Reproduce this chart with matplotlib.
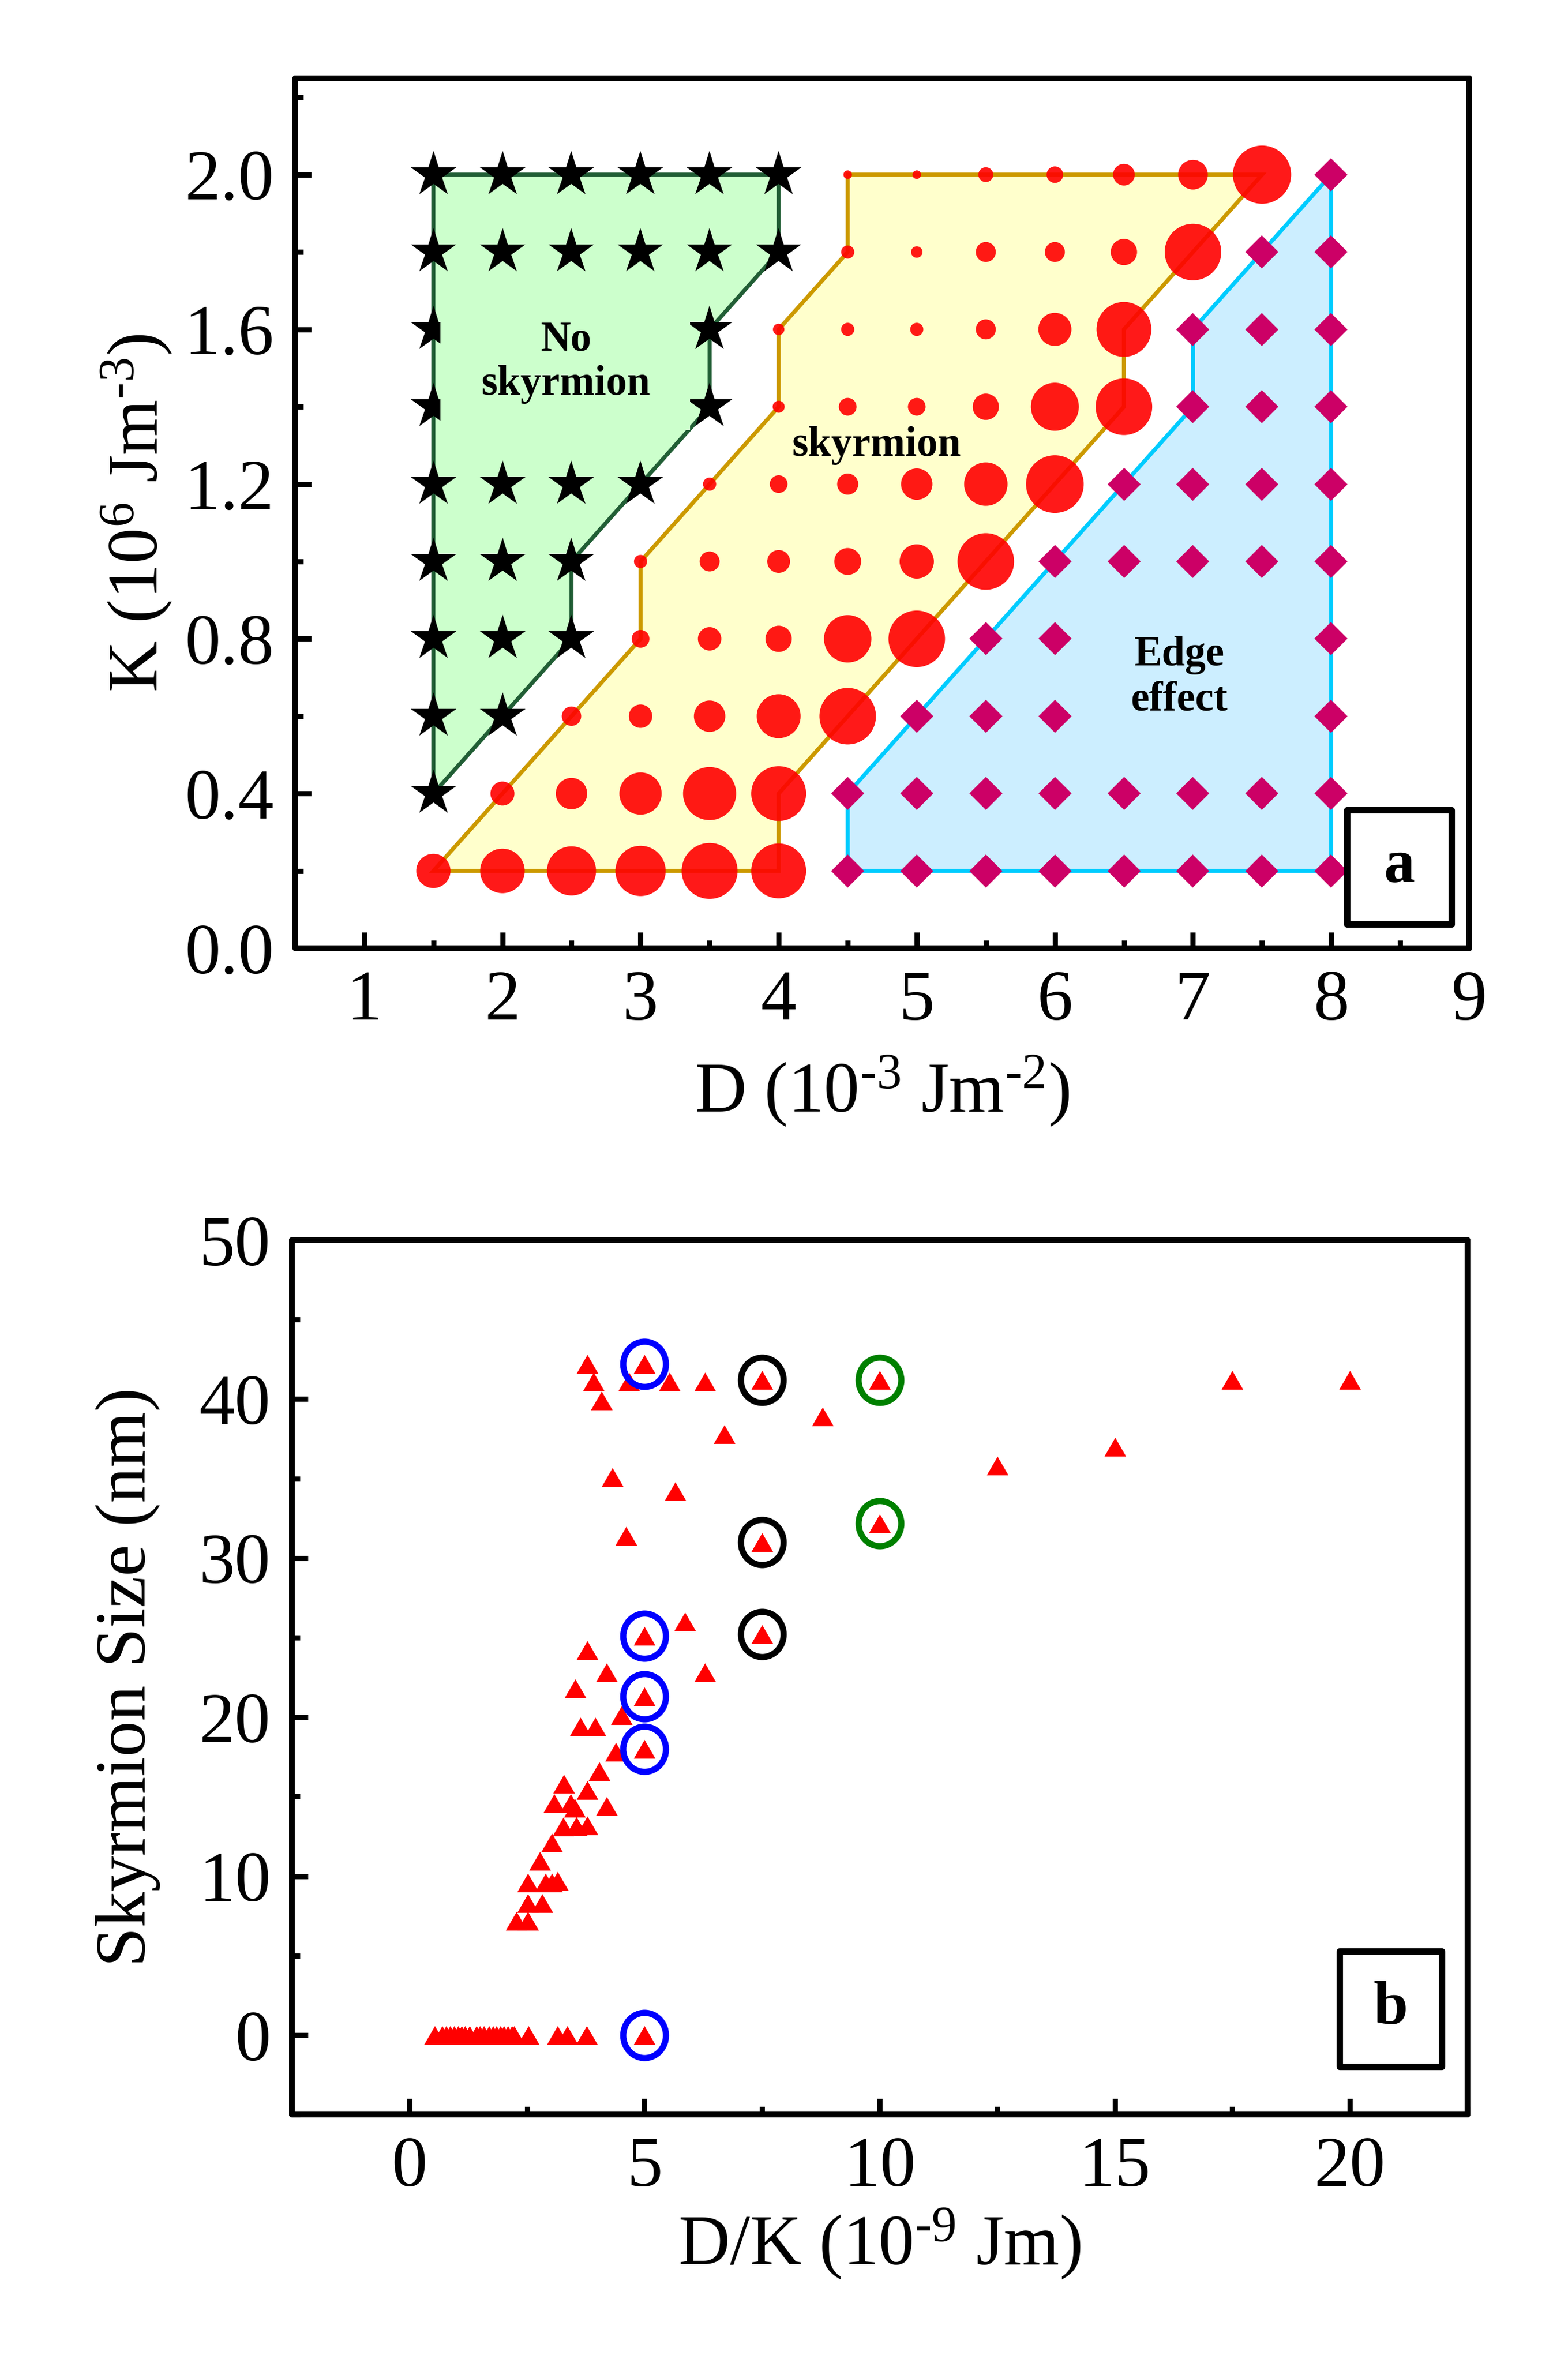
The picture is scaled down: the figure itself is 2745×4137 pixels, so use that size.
import numpy as np
import matplotlib
matplotlib.use('Agg')
import matplotlib.pyplot as plt
from matplotlib.patches import Polygon, Rectangle
from matplotlib.path import Path
from matplotlib.transforms import Affine2D
from matplotlib.ticker import MultipleLocator, FormatStrFormatter

plt.rcParams['font.family'] = ['Liberation Serif', 'DejaVu Serif']
plt.rcParams['mathtext.fontset'] = 'custom'
plt.rcParams['mathtext.rm'] = 'Liberation Serif'
plt.rcParams['mathtext.it'] = 'Liberation Serif:italic'
plt.rcParams['mathtext.bf'] = 'Liberation Serif:bold'

# ---------------- panel a : phase diagram (D in 1e-3 J/m^2, K in 1e6 J/m^3)
# no skyrmion (stars)
star_D = [1.5, 2.0, 2.5, 3.0, 3.5, 4.0,
          1.5, 2.0, 2.5, 3.0, 3.5, 4.0,
          1.5, 3.5,
          1.5, 3.5,
          1.5, 2.0, 2.5, 3.0,
          1.5, 2.0, 2.5,
          1.5, 2.0, 2.5,
          1.5, 2.0,
          1.5]
star_K = [2.0, 2.0, 2.0, 2.0, 2.0, 2.0,
          1.8, 1.8, 1.8, 1.8, 1.8, 1.8,
          1.6, 1.6,
          1.4, 1.4,
          1.2, 1.2, 1.2, 1.2,
          1.0, 1.0, 1.0,
          0.8, 0.8, 0.8,
          0.6, 0.6,
          0.4]

# skyrmion (circles), marker diameter (px)
sky_D = [4.5, 5.0, 5.5, 6.0, 6.5, 7.0, 7.5,
         4.5, 5.0, 5.5, 6.0, 6.5, 7.0,
         4.0, 4.5, 5.0, 5.5, 6.0, 6.5,
         4.0, 4.5, 5.0, 5.5, 6.0, 6.5,
         3.5, 4.0, 4.5, 5.0, 5.5, 6.0,
         3.0, 3.5, 4.0, 4.5, 5.0, 5.5,
         3.0, 3.5, 4.0, 4.5, 5.0,
         2.5, 3.0, 3.5, 4.0, 4.5,
         2.0, 2.5, 3.0, 3.5, 4.0,
         1.5, 2.0, 2.5, 3.0, 3.5, 4.0]
sky_K = [2.0, 2.0, 2.0, 2.0, 2.0, 2.0, 2.0,
         1.8, 1.8, 1.8, 1.8, 1.8, 1.8,
         1.6, 1.6, 1.6, 1.6, 1.6, 1.6,
         1.4, 1.4, 1.4, 1.4, 1.4, 1.4,
         1.2, 1.2, 1.2, 1.2, 1.2, 1.2,
         1.0, 1.0, 1.0, 1.0, 1.0, 1.0,
         0.8, 0.8, 0.8, 0.8, 0.8,
         0.6, 0.6, 0.6, 0.6, 0.6,
         0.4, 0.4, 0.4, 0.4, 0.4,
         0.2, 0.2, 0.2, 0.2, 0.2, 0.2]
sky_size = [15, 15, 26, 29, 38, 52, 102,
            23, 20, 35, 35, 46, 99,
            20, 23, 23, 35, 58, 96,
            21, 31, 31, 46, 84, 99,
            23, 31, 37, 55, 76, 101,
            23, 35, 40, 47, 60, 99,
            31, 41, 46, 83, 99,
            34, 41, 55, 77, 99,
            42, 55, 74, 93, 96,
            60, 78, 86, 88, 98, 96]

# edge effect (diamonds)
edge_D = [8.0,
          7.5, 8.0,
          7.0, 7.5, 8.0,
          7.0, 7.5, 8.0,
          6.5, 7.0, 7.5, 8.0,
          6.0, 6.5, 7.0, 7.5, 8.0,
          5.5, 6.0, 8.0,
          5.0, 5.5, 6.0, 8.0,
          4.5, 5.0, 5.5, 6.0, 6.5, 7.0, 7.5, 8.0,
          4.5, 5.0, 5.5, 6.0, 6.5, 7.0, 7.5, 8.0]
edge_K = [2.0,
          1.8, 1.8,
          1.6, 1.6, 1.6,
          1.4, 1.4, 1.4,
          1.2, 1.2, 1.2, 1.2,
          1.0, 1.0, 1.0, 1.0, 1.0,
          0.8, 0.8, 0.8,
          0.6, 0.6, 0.6, 0.6,
          0.4, 0.4, 0.4, 0.4, 0.4, 0.4, 0.4, 0.4,
          0.2, 0.2, 0.2, 0.2, 0.2, 0.2, 0.2, 0.2]

# region outlines
green_D = [1.5, 4.0, 4.0, 3.5, 3.5, 3.0, 2.5, 2.5, 1.5]
green_K = [2.0, 2.0, 1.8, 1.6, 1.4, 1.2, 1.0, 0.8, 0.4]
yellow_D = [1.5, 4.0, 4.0, 6.5, 6.5, 7.5, 4.5, 4.5, 4.0, 4.0, 3.0, 3.0]
yellow_K = [0.2, 0.2, 0.4, 1.4, 1.6, 2.0, 2.0, 1.8, 1.6, 1.4, 1.0, 0.8]
blue_D = [4.5, 8.0, 8.0, 7.0, 7.0, 4.5]
blue_K = [0.2, 0.2, 2.0, 1.6, 1.4, 0.4]

# ---------------- panel b : skyrmion size vs D/K (1e-9 Jm)
dk = [0.53, 0.69, 0.78, 0.86, 0.95, 1.03, 1.11, 1.18, 1.28, 1.42, 1.50, 1.58,
      1.69, 1.77, 1.85, 1.93, 2.01, 2.09, 2.18, 2.23, 2.53, 3.15, 3.36, 3.77, 5.0,
      3.78, 5.0, 3.91, 4.66, 5.53, 6.28, 7.5, 10.0, 17.5, 20.0,
      4.08, 8.78, 6.69, 15.0, 12.5, 4.31, 5.65, 10.0, 4.61, 7.5,
      5.86, 5.0, 7.5, 3.78, 4.19, 6.28, 3.53, 5.0, 4.51, 3.63, 3.95,
      5.0, 4.39, 4.03, 3.28, 3.78, 3.07, 3.43, 3.51, 4.19, 3.27, 3.55, 3.78,
      3.02, 2.77, 2.52, 2.89, 3.03, 3.15, 2.52, 2.82, 2.27, 2.52]
size = [0, 0, 0, 0, 0, 0, 0, 0, 0, 0, 0, 0,
        0, 0, 0, 0, 0, 0, 0, 0, 0, 0, 0, 0, 0,
        42.2, 42.2, 41.1, 41.1, 41.1, 41.1, 41.2, 41.2, 41.2, 41.2,
        39.9, 38.9, 37.8, 37.0, 35.8, 35.1, 34.2, 32.2, 31.4, 31.0,
        26.0, 25.1, 25.2, 24.2, 22.8, 22.8, 21.8, 21.3, 20.1, 19.4, 19.4,
        18.0, 17.8, 16.6, 15.8, 15.4, 14.6, 14.6, 14.3, 14.4, 13.1, 13.15, 13.2,
        12.1, 10.95, 9.6, 9.6, 9.6, 9.7, 8.3, 8.3, 7.2, 7.2]

# highlighted points
blue_dk = [5.0, 5.0, 5.0, 5.0, 5.0]
blue_s = [42.2, 25.1, 21.3, 18.0, 0.0]
black_dk = [7.5, 7.5, 7.5]
black_s = [41.2, 31.0, 25.2]
green_dk = [10.0, 10.0]
green_s = [41.2, 32.2]

PX = 72.0 / 300.0   # px -> pt at 300 dpi

fig = plt.figure(figsize=(9.15, 13.79), dpi=300)
ax1 = fig.add_axes([0.1883, 0.5987, 0.7487, 0.3683])
ax2 = fig.add_axes([0.1862, 0.1051, 0.7497, 0.3701])

# ---- panel a
ax1.add_patch(Polygon(np.column_stack([green_D, green_K]), closed=True,
                      fc='#ccffcc', ec='#215e35', lw=1.7, zorder=1))
ax1.add_patch(Polygon(np.column_stack([yellow_D, yellow_K]), closed=True,
                      fc='#ffffcc', ec='#cc9900', lw=1.7, zorder=1))
ax1.add_patch(Polygon(np.column_stack([blue_D, blue_K]), closed=True,
                      fc='#cceeff', ec='#00ccff', lw=1.7, zorder=1))

ax1.scatter(sky_D, sky_K, s=(np.array(sky_size) * PX) ** 2, c='red',
            alpha=0.9, linewidths=0, zorder=3)
ax1.plot(star_D, star_K, ls='none', marker='*', ms=20.2, color='black',
         mew=0, zorder=4)
ax1.plot(edge_D, edge_K, ls='none', marker='D', ms=9.85, color='#cc0066',
         mew=0, zorder=3)

# background of the "No skyrmion" label
ax1.add_patch(Rectangle((1.55, 1.34), 1.81, 0.37, fc='#ccffcc', ec='none',
                        zorder=5))
ax1.text(2.46, 1.515, 'No\nskyrmion', ha='center', va='center',
         fontsize=17.5, fontweight='bold', zorder=6)
ax1.text(4.71, 1.30, 'skyrmion', ha='center', va='center',
         fontsize=17.5, fontweight='bold', zorder=6)
ax1.text(6.9, 0.70, 'Edge\neffect', ha='center', va='center',
         fontsize=17.5, fontweight='bold', zorder=6)

ax1.set_xlim(0.5, 9)
ax1.set_ylim(0, 2.25)
ax1.xaxis.set_major_locator(MultipleLocator(1))
ax1.xaxis.set_minor_locator(MultipleLocator(0.5))
ax1.yaxis.set_major_locator(MultipleLocator(0.4))
ax1.yaxis.set_minor_locator(MultipleLocator(0.2))
ax1.yaxis.set_major_formatter(FormatStrFormatter('%.1f'))

# ---- panel b
tri = Path([(-1, -0.866), (1, -0.866), (0, 0.866), (-1, -0.866)],
           [Path.MOVETO, Path.LINETO, Path.LINETO, Path.CLOSEPOLY])
ell = Path.unit_circle().transformed(Affine2D().scale(0.945, 1.0))

ax2.plot(dk, size, ls='none', marker=tri, ms=9.1, color='red', mew=0,
         zorder=3)
ax2.plot(blue_dk, blue_s, ls='none', marker=ell, ms=19, mfc='none',
         mec='#0000ff', mew=2.6, zorder=4)
ax2.plot(black_dk, black_s, ls='none', marker=ell, ms=19, mfc='none',
         mec='black', mew=2.6, zorder=4)
ax2.plot(green_dk, green_s, ls='none', marker=ell, ms=19, mfc='none',
         mec='#008000', mew=2.6, zorder=4)

ax2.set_xlim(-2.5, 22.5)
ax2.set_ylim(-5, 50)
ax2.xaxis.set_major_locator(MultipleLocator(5))
ax2.xaxis.set_minor_locator(MultipleLocator(2.5))
ax2.yaxis.set_major_locator(MultipleLocator(10))
ax2.yaxis.set_minor_locator(MultipleLocator(5))

for ax in (ax1, ax2):
    ax.tick_params(which='both', direction='in', top=False, right=False,
                   width=2.2, labelsize=30, pad=9, color='black')
    ax.tick_params(which='major', length=6.8)
    ax.tick_params(which='minor', length=3.3)
    for sp in ax.spines.values():
        sp.set_linewidth(2.4)
        sp.set_capstyle('round')

# panel letters in boxes
for ax, (x0, y0, w, h), letter in ((ax1, (0.896, 0.028, 0.089, 0.131), 'a'),
                                   (ax2, (0.891, 0.055, 0.087, 0.132), 'b')):
    ax.add_patch(Rectangle((x0, y0), w, h, transform=ax.transAxes, fc='white',
                           ec='black', lw=2.7, joinstyle='round', zorder=7))
    ax.text(x0 + w / 2, y0 + h / 2, letter, transform=ax.transAxes,
            ha='center', va='center', fontsize=26, fontweight='bold', zorder=8)

# axis labels (hyphen-style minus as in the original)
fig.text(0.0871, 0.7829, 'K (10$^{\\text{6}}$ Jm$^{\\text{-3}}$)',
         rotation=90, ha='center', va='center', fontsize=30)
fig.text(0.5627, 0.5383, 'D (10$^{\\text{-3}}$ Jm$^{\\text{-2}}$)',
         ha='center', va='center', fontsize=30)
fig.text(0.0816, 0.2902, 'Skyrmion Size (nm)', rotation=90,
         ha='center', va='center', fontsize=30)
fig.text(0.561, 0.0505, 'D/K (10$^{\\text{-9}}$ Jm)',
         ha='center', va='center', fontsize=30)

fig.savefig('out.png', dpi=300)
